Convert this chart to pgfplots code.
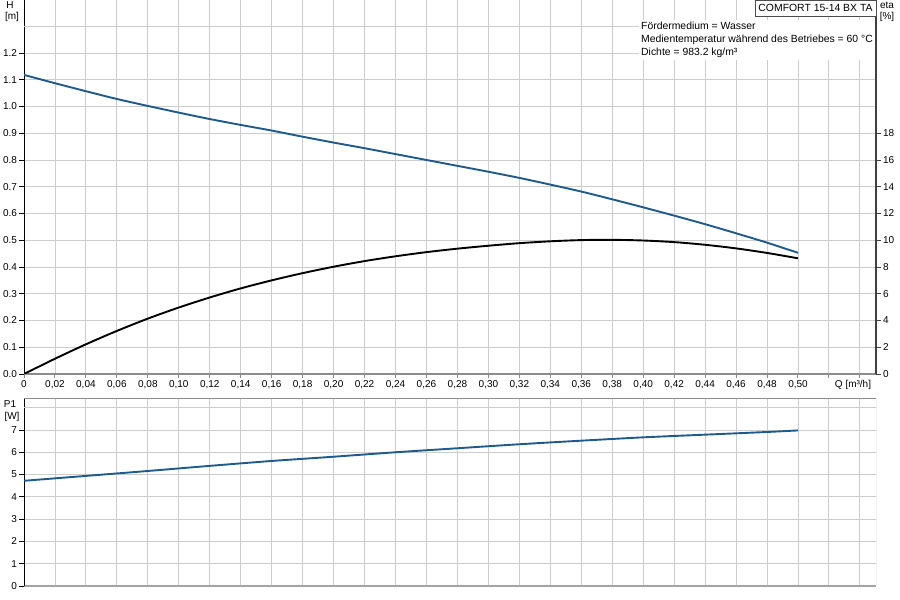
\documentclass[border=0pt]{standalone}
\usepackage{pgfplots}
\pgfplotsset{compat=1.18}
\usepackage{fontspec}
\setmainfont{Liberation Sans}

\definecolor{curveblue}{HTML}{1F5A8C}
\definecolor{gridgray}{HTML}{CCCCCC}
\definecolor{framegray}{HTML}{8C8C8C}

% pump curve data
\pgfplotstableread{
Q     H
0.00  1.118
0.02  1.087
0.04  1.057
0.06  1.028
0.08  1.002
0.10  0.977
0.12  0.953
0.14  0.931
0.16  0.910
0.18  0.887
0.20  0.865
0.22  0.844
0.24  0.822
0.26  0.800
0.28  0.778
0.30  0.756
0.32  0.733
0.34  0.708
0.36  0.682
0.38  0.653
0.40  0.623
0.42  0.592
0.44  0.560
0.46  0.526
0.48  0.491
0.50  0.453
}\headtable
\pgfplotstableread{
Q     eta
0.00  0.00
0.02  1.14
0.04  2.22
0.06  3.22
0.08  4.14
0.10  4.97
0.12  5.72
0.14  6.40
0.16  7.00
0.18  7.54
0.20  8.02
0.22  8.44
0.24  8.80
0.26  9.11
0.28  9.37
0.30  9.59
0.32  9.78
0.34  9.92
0.36  10.01
0.38  10.03
0.40  9.98
0.42  9.86
0.44  9.66
0.46  9.39
0.48  9.05
0.50  8.65
}\etatable
\pgfplotstableread{
Q     P
0.00  4.72
0.04  4.94
0.08  5.16
0.12  5.39
0.16  5.61
0.20  5.80
0.24  6.00
0.28  6.18
0.32  6.36
0.36  6.52
0.40  6.67
0.44  6.79
0.48  6.91
0.50  6.98
}\powertable

\pgfplotsset{
  pump/.style={
    scale only axis,
    width=852pt,
    anchor=south west,
    xmin=0, xmax=0.5504,
    tick label style={font=\fontsize{10}{12}\selectfont},
    /pgf/number format/assume math mode=true,
    tick align=outside,
    major grid style={gridgray, line width=0.9pt},
    axis line style={-},
  },
}

\begin{document}
\begin{tikzpicture}
\useasboundingbox (0,0) rectangle (900pt,600pt);

% upper diagram: head H
\begin{axis}[
    pump,
    at={(24pt,226pt)},
    height=374pt,
    ymin=0, ymax=1.398,
    axis x line*=bottom,
    axis y line*=left,
    x axis line style={framegray, line width=1.8pt},
    y axis line style={black, line width=1pt},
    grid=major,
    xtick={0,0.02,0.04,0.06,0.08,0.10,0.12,0.14,0.16,0.18,0.20,0.22,0.24,0.26,0.28,0.30,0.32,0.34,0.36,0.38,0.40,0.42,0.44,0.46,0.48,0.50,0.52,0.54},
    xticklabels={0,{0,02},{0,04},{0,06},{0,08},{0,10},{0,12},{0,14},{0,16},{0,18},{0,20},{0,22},{0,24},{0,26},{0,28},{0,30},{0,32},{0,34},{0,36},{0,38},{0,40},{0,42},{0,44},{0,46},{0,48},{0,50},{},{}},
    ytick={0,0.1,0.2,0.3,0.4,0.5,0.6,0.7,0.8,0.9,1.0,1.1,1.2},
    yticklabels={0.0,0.1,0.2,0.3,0.4,0.5,0.6,0.7,0.8,0.9,1.0,1.1,1.2},
    extra y ticks={1.3},
    extra y tick labels={},
    extra y tick style={grid=major, major tick length=0pt},
    x tick style={framegray, line width=1pt},
    y tick style={black, line width=0.8pt},
    major tick length=4.5pt,
    xticklabel style={yshift=2pt},
    yticklabel style={xshift=1pt},
  ]
  \addplot [curveblue, line width=1.9pt, smooth, tension=0.4] table [x=Q, y=H] {\headtable};
\end{axis}

% upper diagram: efficiency eta on the right
\begin{axis}[
    pump,
    at={(24pt,226pt)},
    height=374pt,
    ymin=0, ymax=27.96,
    axis x line=none,
    axis y line*=right,
    y axis line style={black!75, line width=1.2pt},
    y tick style={black!75, line width=0.8pt},
    major tick length=4.5pt,
    ytick={0,2,4,6,8,10,12,14,16,18},
    yticklabel style={xshift=-1pt},
  ]
  \addplot [black, line width=1.9pt, smooth, tension=0.5] table [x=Q, y=eta] {\etatable};
\end{axis}

% lower diagram: power P1
\begin{axis}[
    pump,
    at={(24pt,14pt)},
    height=187pt,
    ymin=0, ymax=8.39,
    axis y line*=left,
    axis x line*=bottom,
    x axis line style={framegray!80, line width=1.8pt},
    y axis line style={black, line width=1pt},
    grid=major,
    xtick={0,0.02,0.04,0.06,0.08,0.10,0.12,0.14,0.16,0.18,0.20,0.22,0.24,0.26,0.28,0.30,0.32,0.34,0.36,0.38,0.40,0.42,0.44,0.46,0.48,0.50,0.52,0.54},
    xticklabels={},
    x tick style={draw=none},
    ytick={0,1,2,3,4,5,6,7},
    extra y ticks={8},
    extra y tick labels={},
    extra y tick style={grid=major, major tick length=0pt},
    y tick style={black, line width=0.8pt},
    major tick length=4.5pt,
    yticklabel style={xshift=1pt},
  ]
  \addplot [curveblue, line width=1.9pt, smooth, tension=0.4] table [x=Q, y=P] {\powertable};
  \draw [framegray, line width=1pt] (rel axis cs:0,1) -- (rel axis cs:1,1) -- (rel axis cs:1,0);
\end{axis}

% axis titles
\begin{scope}[every node/.style={font=\fontsize{10}{12}\selectfont, inner sep=0pt}]
  \node at (10pt,595pt) {H};
  \node at (12pt,583pt) {[m]};
  \node at (887pt,595pt) {eta};
  \node at (887pt,583pt) {[\%]};
  \node at (10pt,196pt) {P1};
  \node at (12pt,183pt) {[W]};
  \node at (853pt,215pt) {Q [m³/h]};
\end{scope}

% info block and pump name
\fill [white] (639pt,540pt) rectangle (875pt,580pt);
\draw [black!70, fill=white, line width=0.8pt] (755pt,584pt) rectangle (876pt,600pt);
\begin{scope}[every node/.style={font=\fontsize{10.4}{12}\selectfont, inner sep=0pt, anchor=west}]
  \node at (641pt,574pt) {Fördermedium = Wasser};
  \node at (641pt,560pt) {Medientemperatur während des Betriebes = 60 °C};
  \node at (641pt,547pt) {Dichte = 983.2 kg/m³};
  \node [anchor=center] at (815.5pt,592pt) {COMFORT 15-14 BX TA};
\end{scope}
\end{tikzpicture}
\end{document}
